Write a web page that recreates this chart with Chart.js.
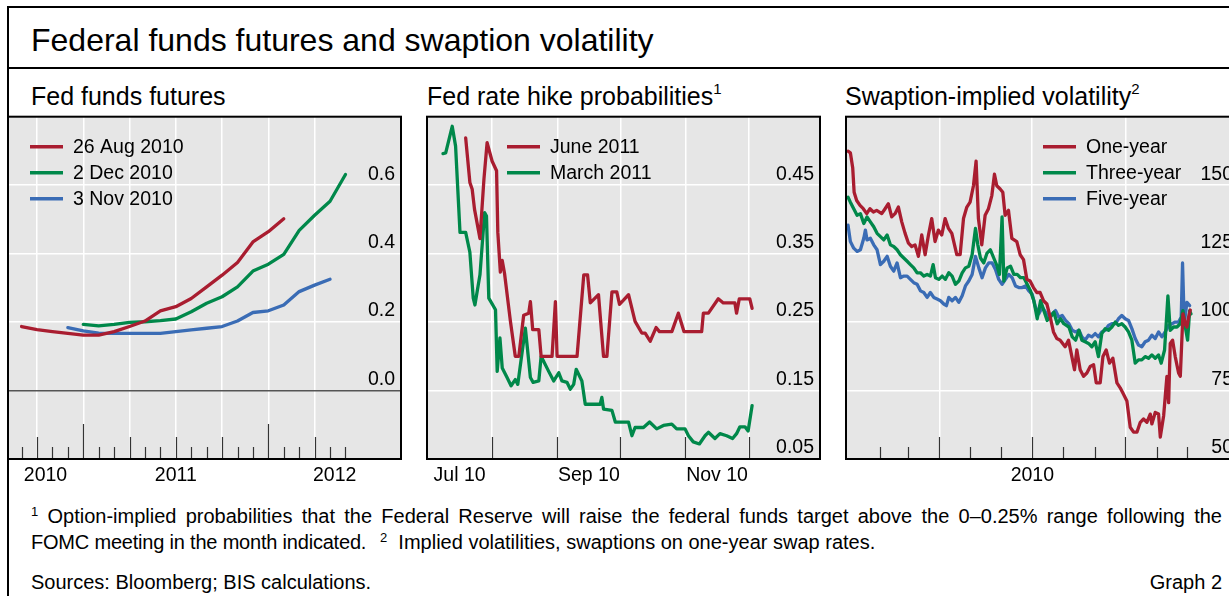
<!DOCTYPE html>
<html>
<head>
<meta charset="utf-8">
<script src="https://cdn.jsdelivr.net/npm/chart.js@4.4.1/dist/chart.umd.min.js"></script>
<style>
html,body{margin:0;padding:0;background:#fff;overflow:hidden;width:1229px;height:596px;}
body{position:relative;font-family:"Liberation Sans",Arial,sans-serif;color:#000;}
#frame{position:absolute;left:7px;top:6px;width:1400px;height:800px;border:2px solid #000;box-sizing:border-box;}
#sep{position:absolute;left:7px;top:67px;width:1400px;height:2px;background:#000;}
#title{position:absolute;left:31px;top:22px;font-size:32px;line-height:36px;white-space:nowrap;}
.ptitle{position:absolute;top:81px;font-size:25px;line-height:30px;white-space:nowrap;}
.ptitle .sup{font-size:15px;position:relative;top:-11px;}
canvas{position:absolute;}
.fn{position:absolute;font-size:20px;line-height:22px;white-space:nowrap;}
.fn .sup{font-size:13px;position:relative;top:-7px;}
</style>
</head>
<body>
<div id="frame"></div>
<div id="sep"></div>
<div id="title">Federal funds futures and swaption volatility</div>
<div class="ptitle" style="left:31px">Fed funds futures</div>
<div class="ptitle" style="left:427px">Fed rate hike probabilities<span class="sup">1</span></div>
<div class="ptitle" style="left:845px">Swaption-implied volatility<span class="sup">2</span></div>

<canvas id="c1" width="401" height="380" style="left:4px;top:111px"></canvas>
<canvas id="c2" width="401" height="380" style="left:423px;top:111px"></canvas>
<canvas id="c3" width="401" height="380" style="left:842px;top:111px"></canvas>

<div id="fn1" class="fn" style="left:31px;top:505px;"><span class="sup">1</span> Option-implied probabilities that the Federal Reserve will raise the federal funds target above the 0–0.25% range following the</div>
<div class="fn" style="left:31px;top:531px;letter-spacing:-0.2px;">FOMC meeting in the month indicated.</div>
<div class="fn" style="left:380px;top:531px;"><span class="sup">2</span>&nbsp; Implied volatilities, swaptions on one-year swap rates.</div>
<div class="fn" style="left:31px;top:571px;">Sources: Bloomberg; BIS calculations.</div>
<div class="fn" style="right:7px;top:571px;">Graph 2</div>

<script>
// ================= DATA =================
// Panel 1: Fed funds futures, x = months since Jan 2010 (8 = Sep 2010)
const futMonths   = [8,9,10,11,12,13,14,15,16,17,18,19,20,21,22,23,24,25,26,27,28,29];
const fut26Aug2010 = [0.187,0.178,0.172,0.167,0.162,0.162,0.172,0.187,0.203,0.233,0.245,0.269,0.303,0.337,0.374,0.434,0.464,0.502,null,null,null,null];
const fut2Dec2010  = [null,null,null,null,0.193,0.189,0.193,0.199,0.201,0.204,0.209,0.230,0.255,0.274,0.303,0.349,0.369,0.398,0.468,0.512,0.553,0.631];
const fut3Nov2010  = [null,null,null,0.184,0.174,0.168,0.167,0.167,0.167,0.167,0.172,0.177,0.182,0.187,0.203,0.228,0.233,0.250,0.289,0.308,0.325,null];
const futYLabels   = [0.0,0.2,0.4,0.6];
const futXLabels   = ['2010','2011','2012'];
const futXLabelPos = [9.55,18,28.3];
const futGridMonths = [9,12,15,18,21,24,27];
const futTickMonths = [8,9,10,11,12,13,14,15,16,17,18,19,20,21,22,23,24,25,26,27,28,29];
const futYearTicks = [12,24];
const futQuarterTicks = [9,15,18,21,27];

// Panel 2: Fed rate hike probabilities, x = days since 1 Jul 2010
const june2011Days = [18.4,20.4,21.5,22.6,25.2,27.1,28.6,31,33.1,33.7,34.9,35.8,36.9,39.7,42,43.7,46,48.4,49.2,50.3,53.2,54.3,59.5,61.1,61.9,71.4,74.6,76.4,77.7,81.6,84,85.6,88,90.3,91.6,93.5,95.9,99,102.2,103.8,106.2,109,110.6,116.5,119.6,122.3,130.7,131.5,133.9,138.6,141,146.5,147.3,148.6,153.6,154.7];
const june2011Vals = [0.519,0.454,0.444,0.415,0.372,0.459,0.512,0.485,0.471,0.381,0.323,0.34,0.321,0.251,0.2,0.2,0.26,0.263,0.28,0.239,0.239,0.2,0.2,0.28,0.2,0.2,0.319,0.319,0.278,0.29,0.2,0.2,0.294,0.294,0.276,0.282,0.29,0.251,0.234,0.234,0.222,0.242,0.236,0.236,0.263,0.236,0.236,0.263,0.263,0.284,0.278,0.278,0.263,0.284,0.284,0.27];
const march2011Days = [7.6,8.9,12,13.6,15.7,18.4,20.4,22,22.8,25.2,27.4,28.3,29.4,32.6,33.4,34.7,35.8,38.1,40,42,43.2,46.8,49.2,50.5,53.2,54.3,57.9,60.3,62.7,64.2,66.6,68.2,69.8,71,73.7,75.3,82.4,83.2,84,88,89.6,95.9,97.5,99,103,105.9,109.3,112.5,116.5,118.8,122.8,124.4,126.7,129.6,132.3,133.9,137,139.4,142.6,145.4,147.3,148.9,151.3,152.8,154.7];
const march2011Vals = [0.496,0.497,0.536,0.507,0.381,0.381,0.352,0.285,0.275,0.319,0.41,0.405,0.285,0.268,0.178,0.227,0.183,0.169,0.157,0.166,0.159,0.241,0.169,0.162,0.164,0.2,0.178,0.164,0.176,0.164,0.162,0.152,0.159,0.181,0.164,0.13,0.13,0.14,0.123,0.121,0.104,0.104,0.084,0.096,0.096,0.104,0.094,0.099,0.101,0.094,0.094,0.084,0.075,0.072,0.084,0.089,0.08,0.087,0.084,0.08,0.087,0.097,0.097,0.091,0.128];
const hikeYLabels = [0.05,0.15,0.25,0.35,0.45];
const hikeXLabels = ['Jul 10','Sep 10','Nov 10'];
const hikeXLabelPos = [15.5,77,138];
const hikeMonthStarts = [31,62,92,123,153];

// Panel 3: Swaption-implied volatility, x = days since 1 Jan 2010
const oneYearDays = [0,2.3,4.6,6,8.5,11.8,15,18.4,21.6,25,28.2,33.2,36.5,39.7,43,46.3,49.6,52.9,56.2,59.5,62.7,66,69.3,72.6,75.9,79.2,82.4,85.7,89,92.3,95.6,98.9,102.2,107.1,110.4,113.7,117,120.2,123.5,126.1,128.4,131.7,135,138.3,141.6,144.2,146.5,149.8,152.4,154.7,158,161.3,166.2,169.5,172.8,176.1,179.3,182.6,185.9,189.2,192.5,195.8,199.1,202.3,205.6,208.9,213.8,217.1,220.4,223,225.3,228.6,231.9,235.2,238.5,241.8,244.4,248.3,251,254.2,257.5,260.8,264.8,268,271.3,274.6,277.9,281.2,284.5,287.8,291,294.3,297.6,299.2,302.5,305.8,307.5,310.8,314,315.7,317.3,319.6,322.2,325.5,327.2,329.8,332.1,333.7,335.4,337];
const oneYearVals = [162.4,161.8,156.4,147.4,144.4,142.6,141.4,139.6,141.4,140.2,140.8,139.6,141.4,143.2,138.4,139.6,142,136.6,132.4,128.8,127.6,128.2,124,131.8,124.6,131.8,137.8,129.4,133.6,131.8,137.8,134.2,132.4,124.6,124.6,137.8,142,143.8,149.8,158.8,137.8,128.2,139,141.4,146.2,154,149.8,148.6,147.4,139,140.8,130.6,129.4,124.6,122.8,115.6,115,112.6,110.8,110.8,107.8,106.6,101.8,96.4,94,93.4,91,93.4,87.4,82.6,89.8,82.6,80.2,81.4,83.8,84.4,77.8,77.8,87.4,89.8,85,86.8,77.8,76,73.6,71.2,61.6,59.8,59.8,63.4,64.6,63.4,66.4,62.8,67,66.4,58,65.8,80.2,70.6,92.2,93.4,87.4,81.4,80.2,103,99.4,98.2,101.8,104.4];
const threeYearDays = [0,2.3,5.6,8.9,12.2,15.5,18.7,22,25.3,28.6,31.9,35.2,38.5,41.7,45,48.3,51.6,54.9,58.2,61.4,64.7,68,71.3,74.6,77.9,81.1,83.8,86.1,89.4,92.7,95.9,99.2,102.5,105.8,109.1,112.4,115.6,118.9,122.2,125.5,127.8,130.4,133.6,136.9,140.2,143.5,146.8,149.1,151.7,153.4,156.7,160,163.3,166.6,169.9,173.2,176.4,179.7,183,186.3,189.6,192.8,196.1,199.4,202.7,206,209.3,212.5,217.5,220.8,224.1,227.4,230.3,233.5,236.8,240.1,243.4,246.6,249.9,253.2,256.5,259.8,263.1,266.3,269.6,272.9,276.2,279.5,282.8,286,289.3,292.6,295.9,299.2,302.5,305.8,308.4,311.7,315,317.3,320.6,323.9,327.1,329.8,332.1,334.4,336.4,337.7];
const threeYearVals = [145.6,143.8,141.4,139,139.6,136,138.4,136.6,134.8,132.4,131.2,130,131.8,128.2,127.6,126.4,124.6,123.4,122.2,121,119.8,118,118,116.8,117.4,116.8,121,116.2,115.6,116.8,115.6,118,116.8,113.8,115,118,119.8,120.4,124.6,134.2,128.2,123.4,121.6,125.2,126.4,123.4,120.4,117.4,138.4,115,119.8,120.4,117.4,117.4,116.2,116.2,113.8,111.4,107.8,101.2,107.8,104.2,100.6,101.8,103.6,99.4,101.2,99.4,98.2,94.6,93.4,97,93.4,92.8,92.2,91,92.8,87.4,95.8,97.6,97,98.2,100,98.8,99.4,98.2,96.4,93.4,85,86.2,86.2,87.4,86.8,88,86.8,88,85,89.8,109.6,97,98.2,98.2,99.4,104.2,98.2,93.4,104.2,103];
const fiveYearDays = [0,2.3,5.6,8.9,12.2,15.5,17.1,18.7,22,25.3,28.6,31.9,35.2,38.5,41.7,45,48.3,51.6,54.9,58.2,61.4,64.7,68,71.3,74.6,77.9,81.1,84.4,87.7,91,94.3,96.9,99.2,102.5,105.8,109.1,112.4,115.6,118.9,122.2,125.5,128.8,132,135.3,138.6,141.9,145.2,148.4,151.7,155,158.3,161.6,164.9,168.2,171.4,174.7,178,181.3,184.6,187.9,191.2,194.5,197.7,201,204.3,207.6,210.9,214.2,217.5,220.8,224.1,227.4,230.3,233.5,236.8,240.1,243.4,246.6,249.9,253.2,256.5,259.8,263.1,266.3,269.6,272.9,276.2,279.5,282.8,286,289.3,292.6,295.9,299.2,302.5,305.8,309.1,312.3,315.7,319,322.2,325.5,328.1,329.4,331.1,333.7,336.4];
const fiveYearVals = [135.4,129.4,127,125.8,126.4,130.6,133.6,130,130.6,128.2,126.4,121,122.2,124,120.4,118.6,121.6,116.2,116.8,116.8,115.6,114.4,113.8,111.4,110.8,109,110.8,109,108.4,107.8,106.6,106,109,107.8,109,107.2,109.6,113.2,115,117.4,124,119.8,116.2,119.8,121.6,121.6,119.2,115.6,113.8,115.6,117.4,116.2,113.2,112.6,112.6,113.2,111.4,110.2,105.4,103,105.4,103.6,101.8,103,104.2,101.8,102.4,100.6,99.4,97,96.4,97,94.6,93.4,95.2,94.6,95.8,94.6,96.4,97,98.8,99.4,99.4,101.2,102.4,101.2,100.6,97.6,94,91.6,91,92.8,93.4,95.2,94,96.4,94.6,96.4,98.8,99.4,100,100,101.8,121.6,99.4,107.2,106];
const volYLabels = [50,75,100,125,150];
const volXLabels = ['2010'];
const volXLabelPos = [181.5];
const volQuarterStarts = [90,181,273];
const volMonthStarts = [31,59,90,120,151,181,212,243,273,304,334];

// ================= RENDERING =================
const FONT = '"Liberation Sans", Arial, sans-serif';
const RED = '#a91d30', GREEN = '#00884a', BLUE = '#3a6cb5';
Chart.defaults.font.family = FONT;
Chart.defaults.color = '#000';

// justify first footnote line to the frame width
(function () {
  const el = document.getElementById('fn1');
  const target = 1191;
  const natural = el.getBoundingClientRect().width;
  const spaces = (el.textContent.match(/ /g) || []).length;
  if (spaces > 0 && natural < target) el.style.wordSpacing = ((target - natural) / spaces) + 'px';
})();

const deco = {
  id: 'deco',
  beforeDraw(chart, args, o) {
    const {ctx, chartArea: a} = chart;
    ctx.save();
    ctx.fillStyle = '#e6e6e6';
    ctx.fillRect(a.left, a.top, a.right - a.left, a.bottom - a.top);
    ctx.restore();
  },
  afterDraw(chart, args, o) {
    const {ctx, chartArea: a} = chart;
    const x = chart.scales.x;
    ctx.save();
    ctx.strokeStyle = '#333';
    ctx.lineWidth = 1.2;
    o.ticks.forEach(v => {
      const px = Math.round(x.getPixelForValue(v)) + 0.5;
      let len = o.lenSmall;
      if (o.tall.includes(v)) len = o.lenTall; else if (o.mid.includes(v)) len = o.lenMid;
      ctx.beginPath(); ctx.moveTo(px, a.bottom); ctx.lineTo(px, a.bottom - len); ctx.stroke();
    });
    ctx.font = '19.5px ' + FONT;
    ctx.textBaseline = 'middle';
    ctx.textAlign = 'left';
    chart.data.datasets.forEach((d, i) => {
      const y = a.top + o.legTop + i * 26;
      ctx.strokeStyle = d.borderColor; ctx.lineWidth = 3.5; ctx.lineCap = 'butt';
      ctx.beginPath(); ctx.moveTo(a.left + o.legX, y); ctx.lineTo(a.left + o.legX + 33, y); ctx.stroke();
      ctx.fillStyle = '#000';
      ctx.fillText(d.label, a.left + o.legX + 43, y + 1);
    });
    ctx.strokeStyle = '#000'; ctx.lineWidth = 2;
    ctx.strokeRect(a.left, a.top, a.right - a.left, a.bottom - a.top);
    ctx.restore();
  }
};

function makePanel(id, c) {
  const datasets = c.series.map(s => ({
    label: s.label,
    data: s.x.map((xv, i) => ({x: xv, y: s.y[i]})).filter(p => p.y !== null),
    borderColor: s.color, backgroundColor: s.color,
    borderWidth: 3.3, pointRadius: 0, tension: 0,
    borderJoinStyle: 'round', borderCapStyle: 'round',
    xAxisID: 'x', yAxisID: 'y'
  }));
  new Chart(document.getElementById(id), {
    type: 'line',
    data: {datasets},
    options: {
      responsive: false, animation: false, devicePixelRatio: 1,
      layout: {padding: {left: 4, right: 4, top: 4, bottom: 0}},
      plugins: {legend: {display: false}, tooltip: {enabled: false}, deco: c.deco},
      scales: {
        x: {
          type: 'linear', position: 'bottom', min: c.xmin, max: c.xmax,
          afterBuildTicks: s => { s.ticks = c.xLabelPos.map(v => ({value: v})); },
          afterFit: s => { s.height = 32; },
          grid: {display: false, drawTicks: false}, border: {display: false},
          ticks: {autoSkip: false, maxRotation: 0, padding: 5, font: {size: 19.5}, color: '#000',
                  callback: (v, i) => c.xLabels[i]}
        },
        xg: {
          type: 'linear', position: 'bottom', min: c.xmin, max: c.xmax,
          afterBuildTicks: s => { s.ticks = c.xGrid.map(v => ({value: v})); },
          afterFit: s => { s.height = 0; },
          ticks: {display: false}, border: {display: false},
          grid: {color: '#ffffff', lineWidth: 1.5, drawTicks: false}
        },
        y: {
          type: 'linear', position: 'right', min: c.ymin, max: c.ymax,
          afterBuildTicks: s => { s.ticks = c.yLabels.map(v => ({value: v})); },
          afterFit: s => { s.width = 0; },
          border: {display: false},
          grid: {drawTicks: false, lineWidth: 1.5,
                 color: ctx => (c.zeroLine && ctx.tick && ctx.tick.value === 0) ? '#555555' : '#ffffff'},
          ticks: {mirror: true, padding: -6, crossAlign: 'near', labelOffset: -11, autoSkip: false,
                  font: {size: 19.5}, color: '#000', callback: v => c.fmt(v)}
        }
      }
    },
    plugins: [deco]
  });
}

makePanel('c1', {
  xmin: 7.12, xmax: 32.6, ymin: -0.2, ymax: 0.8, zeroLine: true,
  yLabels: futYLabels, fmt: v => v.toFixed(1),
  xLabels: futXLabels, xLabelPos: futXLabelPos, xGrid: futGridMonths,
  series: [
    {label: '26 Aug 2010', x: futMonths, y: fut26Aug2010, color: RED},
    {label: '2 Dec 2010', x: futMonths, y: fut2Dec2010, color: GREEN},
    {label: '3 Nov 2010', x: futMonths, y: fut3Nov2010, color: BLUE}
  ],
  deco: {ticks: futTickMonths, tall: futYearTicks, mid: futQuarterTicks, lenTall: 35, lenMid: 22, lenSmall: 12, legX: 22, legTop: 30}
});

makePanel('c2', {
  xmin: 0, xmax: 187, ymin: 0.05, ymax: 0.55, zeroLine: false,
  yLabels: hikeYLabels, fmt: v => v.toFixed(2),
  xLabels: hikeXLabels, xLabelPos: hikeXLabelPos, xGrid: hikeMonthStarts,
  series: [
    {label: 'June 2011', x: june2011Days, y: june2011Vals, color: RED},
    {label: 'March 2011', x: march2011Days, y: march2011Vals, color: GREEN}
  ],
  deco: {ticks: hikeMonthStarts, tall: [], mid: hikeMonthStarts, lenTall: 22, lenMid: 22, lenSmall: 22, legX: 80, legTop: 30}
});

makePanel('c3', {
  xmin: -2, xmax: 385, ymin: 50, ymax: 175, zeroLine: false,
  yLabels: volYLabels, fmt: v => String(Math.round(v)),
  xLabels: volXLabels, xLabelPos: volXLabelPos, xGrid: volQuarterStarts,
  series: [
    {label: 'One-year', x: oneYearDays, y: oneYearVals, color: RED},
    {label: 'Three-year', x: threeYearDays, y: threeYearVals, color: GREEN},
    {label: 'Five-year', x: fiveYearDays, y: fiveYearVals, color: BLUE}
  ],
  deco: {ticks: volMonthStarts, tall: volQuarterStarts, mid: [], lenTall: 22, lenMid: 22, lenSmall: 12, legX: 197, legTop: 30}
});
</script>
</body>
</html>
